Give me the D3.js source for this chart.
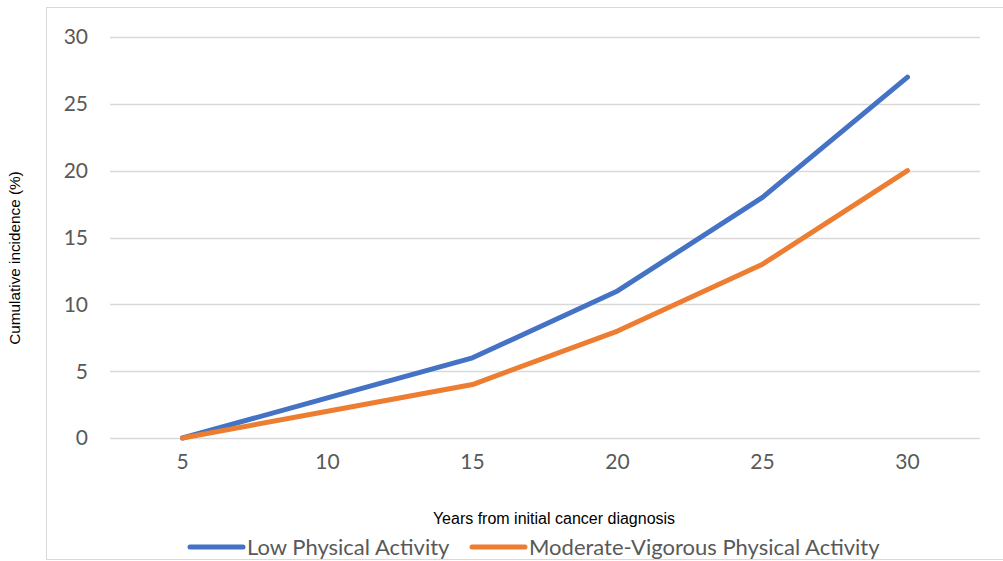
<!DOCTYPE html>
<html>
<head>
<meta charset="utf-8">
<script src="https://cdn.jsdelivr.net/npm/d3@7"></script>
<style>
  body { margin: 0; background: #fff; }
  svg { display: block; }
</style>
</head>
<body>
<div id="chart"></div>
<script>
var years = ["5", "10", "15", "20", "25", "30"];
var lowActivity = [0, 3, 6, 11, 18, 27];
var moderateActivity = [0, 2, 4, 8, 13, 20];
var yTicks = [0, 5, 10, 15, 20, 25, 30];
var seriesNames = ["Low Physical Activity", "Moderate-Vigorous Physical Activity"];
var seriesColors = ["#4472C4", "#ED7D31"];

var width = 1003, height = 561;
var svg = d3.select("#chart").append("svg")
    .attr("width", width)
    .attr("height", height);

// chart frame
svg.append("rect")
  .attr("x", 46.5).attr("y", 7.5)
  .attr("width", 1000).attr("height", 552)
  .attr("fill", "none")
  .attr("stroke", "#d9d9d9");

var x = d3.scaleBand().domain(years).range([110, 980]);
var y = d3.scaleLinear().domain([0, 30]).range([438, 37]);

// gridlines
svg.append("g").selectAll("line")
  .data(yTicks)
  .enter().append("line")
  .attr("x1", 110).attr("x2", 980)
  .attr("y1", function(d){ return Math.round(y(d)) + 0.5; })
  .attr("y2", function(d){ return Math.round(y(d)) + 0.5; })
  .attr("stroke", "#d9d9d9")
  .attr("stroke-width", 1.5);

// y tick labels
svg.append("g").selectAll("text")
  .data(yTicks)
  .enter().append("text")
  .attr("x", 88)
  .attr("y", function(d){ return y(d); })
  .attr("dy", "0.35em")
  .attr("text-anchor", "end")
  .attr("font-family", "Lato, 'Open Sans', sans-serif")
  .attr("font-size", 21)
  .attr("fill", "#595959")
  .text(function(d){ return d; });

// x tick labels
svg.append("g").selectAll("text")
  .data(years)
  .enter().append("text")
  .attr("x", function(d){ return x(d) + x.bandwidth() / 2; })
  .attr("y", 469)
  .attr("text-anchor", "middle")
  .attr("font-family", "Lato, 'Open Sans', sans-serif")
  .attr("font-size", 21)
  .attr("fill", "#595959")
  .text(function(d){ return d; });

// axis titles
svg.append("text")
  .attr("x", 554).attr("y", 524)
  .attr("text-anchor", "middle")
  .attr("font-family", "'Liberation Sans', Arial, sans-serif")
  .attr("font-size", 16)
  .attr("fill", "#000")
  .text("Years from initial cancer diagnosis");

svg.append("text")
  .attr("transform", "translate(20,258) rotate(-90)")
  .attr("text-anchor", "middle")
  .attr("font-family", "'Liberation Sans', Arial, sans-serif")
  .attr("font-size", 15.3)
  .attr("fill", "#000")
  .text("Cumulative incidence (%)");

// lines
var line = d3.line()
  .x(function(d, i){ return x(years[i]) + x.bandwidth() / 2; })
  .y(function(d){ return y(d); });

[lowActivity, moderateActivity].forEach(function(series, k){
  svg.append("path")
    .datum(series)
    .attr("d", line)
    .attr("fill", "none")
    .attr("stroke", seriesColors[k])
    .attr("stroke-width", 5)
    .attr("stroke-linecap", "round")
    .attr("stroke-linejoin", "round");
});

// legend
var legendX = [190, 472];
var legend = svg.append("g").selectAll("g")
  .data(seriesNames)
  .enter().append("g")
  .attr("transform", function(d, i){ return "translate(" + legendX[i] + ",547)"; });

legend.append("line")
  .attr("x1", 0).attr("x2", 53)
  .attr("y1", 0).attr("y2", 0)
  .attr("stroke", function(d, i){ return seriesColors[i]; })
  .attr("stroke-width", 5)
  .attr("stroke-linecap", "round");

legend.append("text")
  .attr("x", 57)
  .attr("dy", "0.35em")
  .attr("font-family", "Lato, 'Open Sans', sans-serif")
  .attr("font-size", 22)
  .attr("fill", "#595959")
  .text(function(d){ return d; });
</script>
</body>
</html>
